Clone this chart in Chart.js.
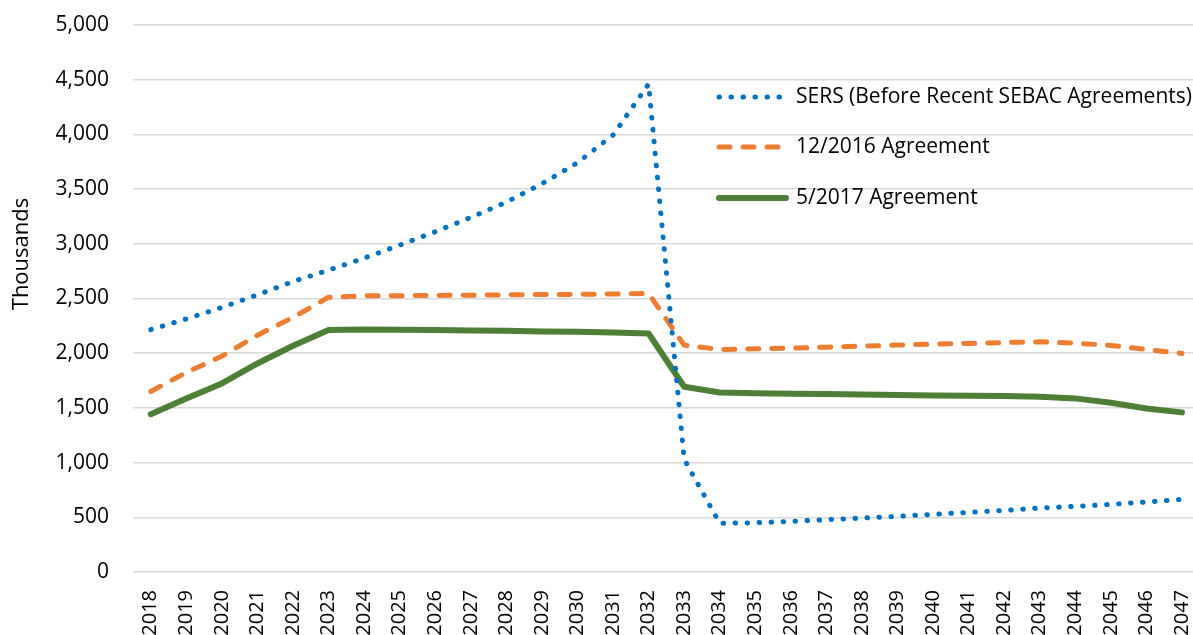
<!DOCTYPE html>
<html lang="en">
<head>
  <meta charset="UTF-8" />
  <title>SERS Contributions</title>
  <style>
    * {
      margin: 0;
      padding: 0;
      box-sizing: border-box;
    }

    body {
      background: #fff;
      overflow: hidden;
    }

    /* plot runs a little past the right edge, like the original */
    .chart-box {
      position: relative;
      width: 1206px;
      height: 635px;
    }
  </style>
</head>
<body>
  <div class="chart-box">
    <canvas id="sersChart"></canvas>
  </div>

  <script src="https://cdn.jsdelivr.net/npm/chart.js"></script>

  <script>
    // ================================
    // Data (thousands)
    // ================================
    const years = ['2018', '2019', '2020', '2021', '2022', '2023', '2024', '2025', '2026', '2027',
                   '2028', '2029', '2030', '2031', '2032', '2033', '2034', '2035', '2036', '2037',
                   '2038', '2039', '2040', '2041', '2042', '2043', '2044', '2045', '2046', '2047'];

    const sersBefore = [2216, 2314, 2418, 2534, 2655, 2759, 2869, 2988, 3110, 3241,
                        3381, 3549, 3741, 3994, 4460, 1030, 445, 450, 463, 478,
                        493, 509, 527, 545, 563, 585, 600, 618, 640, 664];

    const agreement2016 = [1650, 1824, 1973, 2165, 2327, 2512, 2524, 2526, 2528, 2530,
                           2533, 2536, 2538, 2541, 2546, 2074, 2034, 2040, 2046, 2055,
                           2065, 2074, 2083, 2089, 2098, 2104, 2092, 2071, 2034, 1998];

    const agreement2017 = [1442, 1586, 1724, 1906, 2068, 2211, 2217, 2214, 2211, 2208,
                           2205, 2199, 2195, 2189, 2180, 1693, 1641, 1635, 1629, 1626,
                           1623, 1617, 1614, 1611, 1608, 1602, 1587, 1547, 1495, 1459];

    const seriesNames = ['SERS (Before Recent SEBAC Agreements)', '12/2016 Agreement', '5/2017 Agreement'];

    const yTicks = [0, 500, 1000, 1500, 2000, 2500, 3000, 3500, 4000, 4500, 5000];

    const yTitle = 'Thousands';

    const FONT = '"Open Sans", "Liberation Sans", sans-serif';
    const TEXT = '#000000';

    // ================================
    // Legend inside the plot (top right) + axis title sitting a bit high, like Excel
    // ================================
    const insideLegend = {
      id: 'insideLegend',
      afterDraw(chart) {
        const ctx = chart.ctx;
        const x0 = 719;
        const lineLen = 67;
        const rows = [97, 147, 198];
        ctx.save();
        chart.data.datasets.forEach((ds, i) => {
          const y = rows[i];
          ctx.beginPath();
          ctx.strokeStyle = ds.borderColor;
          ctx.lineWidth = ds.borderWidth;
          ctx.lineCap = ds.borderCapStyle || 'butt';
          ctx.setLineDash(ds.borderDash || []);
          ctx.moveTo(x0, y);
          ctx.lineTo(x0 + lineLen, y);
          ctx.stroke();
          ctx.setLineDash([]);
          ctx.fillStyle = TEXT;
          ctx.font = '21px ' + FONT;
          ctx.textAlign = 'left';
          ctx.textBaseline = 'middle';
          ctx.fillText(ds.label, x0 + lineLen + 10, y);
        });

        // y axis title
        ctx.translate(22, 254);
        ctx.rotate(-Math.PI / 2);
        ctx.font = '22px ' + FONT;
        ctx.textAlign = 'center';
        ctx.textBaseline = 'middle';
        ctx.fillText(yTitle, 0, 0);
        ctx.restore();
      }
    };

    const ctx = document.getElementById('sersChart').getContext('2d');
    const sersChart = new Chart(ctx, {
      type: 'line',
      data: {
        labels: years,
        datasets: [{
          label: seriesNames[0],
          data: sersBefore,
          borderColor: '#0070C0',
          borderWidth: 5,
          borderDash: [0.5, 11.5],
          borderCapStyle: 'round',
          borderJoinStyle: 'round',
          pointRadius: 0,
          tension: 0,
          fill: false
        },
        {
          label: seriesNames[1],
          data: agreement2016,
          borderColor: '#ED7D31',
          borderWidth: 5,
          borderDash: [11, 13],
          borderCapStyle: 'round',
          borderJoinStyle: 'round',
          pointRadius: 0,
          tension: 0,
          fill: false
        },
        {
          label: seriesNames[2],
          data: agreement2017,
          borderColor: '#4E7F37',
          borderWidth: 6,
          borderCapStyle: 'round',
          borderJoinStyle: 'round',
          pointRadius: 0,
          tension: 0,
          fill: false
        }]
      },
      options: {
        responsive: true,
        maintainAspectRatio: false,
        animation: false,
        layout: {
          padding: { top: 25, right: 0, bottom: 0, left: 0 }
        },
        plugins: {
          legend: { display: false },
          tooltip: { enabled: false }
        },
        scales: {
          x: {
            offset: true,
            // labels hang below the canvas edge a little, as in the original
            afterFit: (axis) => { axis.height = 63; },
            grid: { display: false, drawTicks: true, tickLength: 18 },
            border: { display: false },
            ticks: {
              autoSkip: false,
              minRotation: 90,
              maxRotation: 90,
              padding: 0,
              color: TEXT,
              font: { family: FONT, size: 20 }
            }
          },
          y: {
            min: 0,
            max: 5000,
            afterBuildTicks: (axis) => {
              axis.ticks = yTicks.map(v => ({ value: v }));
            },
            afterFit: (axis) => { axis.width = 133; },
            grid: {
              color: '#D9D9D9',
              lineWidth: 1.5,
              drawTicks: true,
              tickLength: 24,
              tickColor: 'rgba(0,0,0,0)'
            },
            border: { display: false },
            ticks: {
              padding: 0,
              color: TEXT,
              font: { family: FONT, size: 21 },
              callback: (v) => v.toLocaleString('en-US')
            }
          }
        }
      },
      plugins: [insideLegend]
    });
  </script>
</body>
</html>
